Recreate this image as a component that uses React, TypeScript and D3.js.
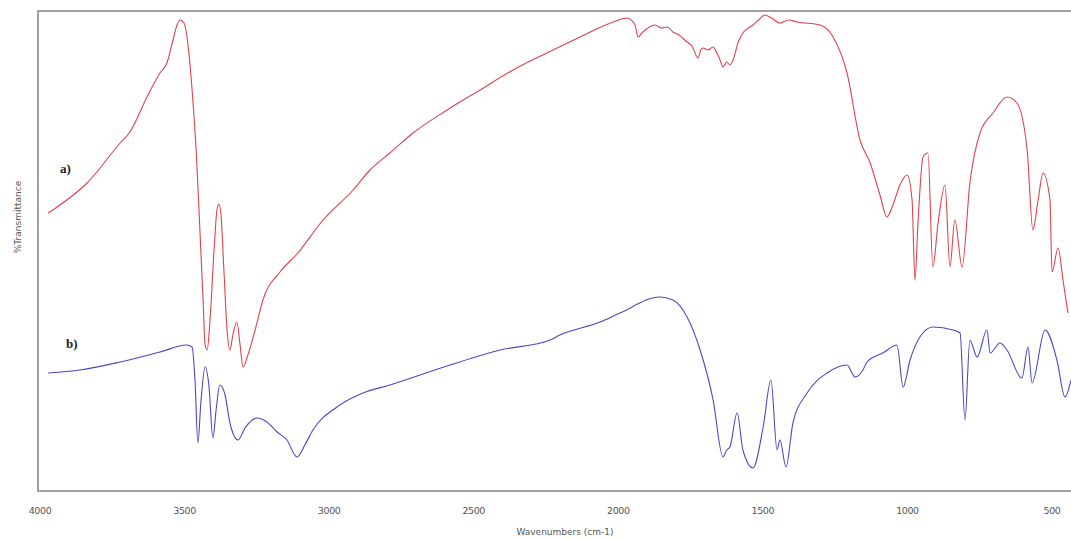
import React from "react";
import * as d3 from "d3";

// wavenumber (cm-1) and relative transmittance (arbitrary units)
const redWn = [3972,3931,3837,3723,3689,3630,3585,3561,3540,3526,3516,3502,3488,3474,3460,3447,3436,3429,3422,3412,3398,3388,3381,3374,3364,3353,3343,3333,3319,3308,3298,3281,3256,3229,3170,3111,3021,2917,2859,2790,2710,2592,2478,2364,2247,2132,2018,1970,1942,1932,1915,1873,1850,1830,1811,1790,1762,1745,1724,1715,1707,1690,1672,1659,1648,1638,1625,1614,1603,1585,1569,1550,1534,1515,1493,1470,1441,1410,1382,1302,1257,1209,1164,1129,1095,1071,1050,1026,1001,984,974,963,946,929,912,894,870,853,836,811,784,749,704,656,621,586,566,548,531,507,500,479,462,445];
const redT =  [277,285,307,347,358,393,417,427,450,465,470,467,445,400,340,260,190,145,140,170,240,280,286,275,220,160,140,155,168,145,123,135,160,190,218,236,270,300,320,337,357,380,400,420,437,453,468,472,465,453,458,465,462,463,458,455,448,444,432,440,442,440,443,437,430,423,428,425,430,448,457,462,465,470,475,472,467,470,468,465,453,417,350,327,295,273,285,305,315,290,210,270,333,337,223,267,305,223,270,223,307,357,377,393,387,340,260,290,317,290,218,242,210,177];

const blueWn = [3972,3862,3723,3585,3492,3474,3464,3454,3443,3429,3416,3402,3391,3378,3360,3343,3315,3291,3250,3215,3180,3146,3111,3084,3056,2973,2883,2790,2582,2409,2236,2202,2063,1994,1856,1811,1762,1717,1672,1638,1625,1614,1589,1569,1534,1499,1472,1451,1441,1420,1396,1347,1278,1209,1181,1154,1140,1085,1036,1015,991,957,912,842,818,801,784,759,725,714,680,656,604,583,569,524,483,455,434];
const blueT =  [117,120,128,138,145,143,110,47,90,123,105,52,80,105,95,67,50,62,72,68,58,50,33,45,60,83,97,105,125,140,150,155,168,177,193,190,173,140,90,33,40,43,77,40,22,63,110,40,50,23,67,97,117,125,113,120,128,137,145,103,130,153,163,160,157,70,150,133,160,137,147,140,112,143,107,160,130,93,110];

const xTicks = [4000, 3500, 3000, 2500, 2000, 1500, 1000, 500];

export default function App() {
  const W = 1071, H = 539;
  const x = d3.scaleLinear().domain([4000, 500]).range([40, 1052]);
  const y = d3.scaleLinear().domain([0, 480]).range([490, 10]);
  const line = d3.line<[number, number]>()
    .x((d) => x(d[0]))
    .y((d) => y(d[1]))
    .curve(d3.curveMonotoneX);
  const red = redWn.map((w, i) => [w, redT[i]] as [number, number]);
  const blue = blueWn.map((w, i) => [w, blueT[i]] as [number, number]);
  const font = "Tahoma, 'DejaVu Sans', 'Liberation Sans', sans-serif";
  return (
    <svg width={W} height={H} style={{ position: "absolute", left: 0, top: 0, background: "#fff" }}>
      <rect x={38} y={11} width={1045} height={480} fill="none" stroke="#a0a0a0" strokeWidth={2} />
      <path d={line(red) || ""} fill="none" stroke="#e0424a" strokeWidth={1.1} />
      <path d={line(blue) || ""} fill="none" stroke="#4a48c8" strokeWidth={1.1} />
      {xTicks.map((t) => (
        <text key={t} x={x(t)} y={514} textAnchor="middle" fontSize={9.5} fill="#555" fontFamily={font}
          letterSpacing={-0.4}>{t}</text>
      ))}
      <text x={565} y={535} textAnchor="middle" fontSize={9} fill="#555" fontFamily={font}>Wavenumbers (cm-1)</text>
      <text transform="translate(21,217) rotate(-90)" textAnchor="middle" fontSize={9} fill="#555" fontFamily={font}>%Transmittance</text>
      <text x={60} y={173} fontSize={13} fontWeight="bold" fontFamily="'Liberation Serif', 'DejaVu Serif', serif" fill="#222">a)</text>
      <text x={66} y={348} fontSize={13} fontWeight="bold" fontFamily="'Liberation Serif', 'DejaVu Serif', serif" fill="#222">b)</text>
    </svg>
  );
}
